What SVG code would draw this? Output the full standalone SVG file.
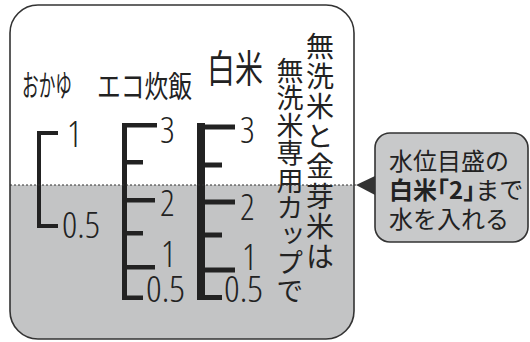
<svg xmlns="http://www.w3.org/2000/svg" width="530" height="342" viewBox="0 0 530 342">
<style>
.frame{fill:none;stroke:#333;stroke-width:1.6}
.water{fill:#c3c4c5}
.bar{fill:#222}
.jp{font-family:"Noto Sans CJK JP","Noto Sans",sans-serif;fill:#222}
.num{font-family:"Open Sans","Liberation Sans",sans-serif;font-weight:300;font-stretch:87.5%;fill:#222;font-size:36px}
.lvl{stroke:#333;stroke-width:1.2;stroke-dasharray:2 2;fill:none}
.half{font-feature-settings:"halt" 1}
</style>
<defs>
<clipPath id="boxclip"><rect x="10" y="5" width="344" height="334" rx="28" ry="28"/></clipPath>
</defs>
<rect x="0" y="0" width="530" height="342" fill="#fff"/>
<g id="gauge">
<rect x="0" y="185" width="360" height="160" class="water" clip-path="url(#boxclip)"/>
<rect x="10" y="5" width="344" height="334" rx="28" ry="28" class="frame"/>
<text class="jp" x="22" y="96" font-size="30" textLength="50" lengthAdjust="spacingAndGlyphs">おかゆ</text>
<text class="jp" x="97" y="97" font-size="30" textLength="95" lengthAdjust="spacingAndGlyphs">エコ炊飯</text>
<text class="jp" x="207" y="82" font-size="38" textLength="56" lengthAdjust="spacingAndGlyphs">白米</text>
<g id="scale-okayu">
<rect class="bar" x="37" y="131" width="4" height="97"/>
<rect class="bar" x="37" y="131" width="21" height="4"/>
<rect class="bar" x="37" y="224" width="21" height="4"/>
<text class="num" x="67" y="147">1</text>
<text class="num" x="62" y="238" textLength="38" lengthAdjust="spacingAndGlyphs">0.5</text>
</g>
<g id="scale-eco">
<rect class="bar" x="122" y="123" width="5" height="177"/>
<rect class="bar" x="122" y="123" width="35" height="4.5"/>
<rect class="bar" x="122" y="160" width="21" height="4.5"/>
<rect class="bar" x="122" y="198" width="33" height="4.5"/>
<rect class="bar" x="122" y="231" width="21" height="4.5"/>
<rect class="bar" x="122" y="265" width="33" height="4.5"/>
<rect class="bar" x="122" y="295.5" width="21" height="4.5"/>
<text class="num" x="160" y="143">3</text>
<text class="num" x="160" y="216">2</text>
<text class="num" x="161" y="267">1</text>
<text class="num" x="146" y="302" textLength="39" lengthAdjust="spacingAndGlyphs">0.5</text>
</g>
<g id="scale-hakumai">
<rect class="bar" x="197" y="123" width="8" height="177"/>
<rect class="bar" x="197" y="124.5" width="38" height="5"/>
<rect class="bar" x="197" y="162.5" width="25" height="5"/>
<rect class="bar" x="197" y="199.5" width="38" height="5"/>
<rect class="bar" x="197" y="232.5" width="25" height="5"/>
<rect class="bar" x="197" y="267.5" width="38" height="5"/>
<rect class="bar" x="197" y="295" width="25" height="5"/>
<text class="num" x="240" y="143">3</text>
<text class="num" x="240" y="220">2</text>
<text class="num" x="242" y="270">1</text>
<text class="num" x="224" y="302" textLength="39" lengthAdjust="spacingAndGlyphs">0.5</text>
</g>
<text class="jp" x="320" y="32" font-size="28" letter-spacing="2" writing-mode="vertical-rl">無洗米と金芽米は</text>
<text class="jp" x="290" y="57" font-size="27" letter-spacing="0.5" writing-mode="vertical-rl">無洗米専用カップで</text>
</g>
<g id="connectors">
<line class="lvl" x1="10" y1="185" x2="357" y2="185"/>
</g>
<g id="note">
<rect x="375" y="133" width="153" height="109" rx="15" ry="15" fill="#c8c9ca" stroke="#333" stroke-width="1.6"/>
<polygon points="375,176 356,185 375,195" fill="#333"/>
<text class="jp" font-size="24"><tspan x="389" y="170">水位目盛の</tspan><tspan x="389" y="199" font-weight="bold" class="half">白米「2」</tspan><tspan>まで</tspan><tspan x="389" y="228">水を入れる</tspan></text>
</g>
</svg>
